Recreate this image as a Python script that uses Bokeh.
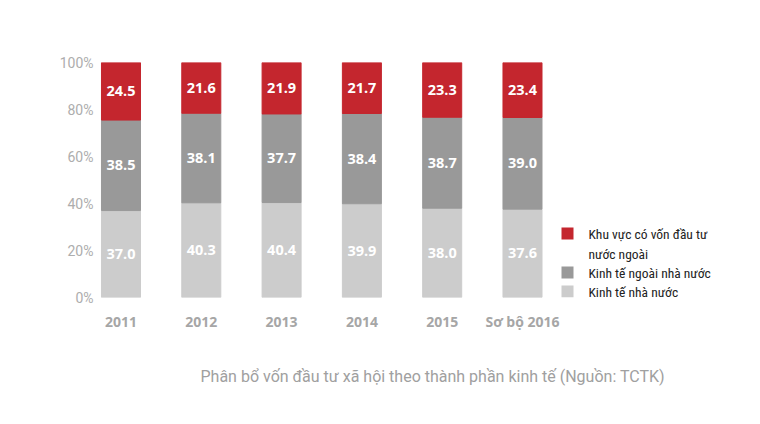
from bokeh.plotting import figure
from bokeh.models import FixedTicker, ColumnDataSource, Title
from bokeh.core.properties import value
from bokeh.embed import file_html
from bokeh.resources import INLINE

years = ["2011", "2012", "2013", "2014", "2015", "Sơ bộ 2016"]
nha_nuoc = [37.0, 40.3, 40.4, 39.9, 38.0, 37.6]
ngoai_nha_nuoc = [38.5, 38.1, 37.7, 38.4, 38.7, 39.0]
fdi = [24.5, 21.6, 21.9, 21.7, 23.3, 23.4]
legend_labels = ["Khu vực có vốn đầu tư", "Kinh tế ngoài nhà nước", "Kinh tế nhà nước"]
legend_label_cont = "nước ngoài"
y_ticks = [0, 20, 40, 60, 80, 100]
caption = "Phân bổ vốn đầu tư xã hội theo thành phần kinh tế (Nguồn: TCTK)"

RED, DARK, LIGHT = "#c4262e", "#999999", "#cccccc"

# layout constants (pixels)
FRAME_L, FRAME_T, FRAME_B = 96, 62, 297
PX_PER_CAT = 80.3
PX_PER_PCT = (FRAME_B - FRAME_T) / 100.0
X0 = -0.305
FIG_W, FIG_H = 760, 424

def px_to_x(px):
    return (px - FRAME_L) / PX_PER_CAT + X0

def py_to_y(py):
    return (FRAME_B - py) / PX_PER_PCT

xs = list(range(len(years)))
b1 = [0.0] * len(xs)
t1 = nha_nuoc
b2 = t1
t2 = [a + b for a, b in zip(t1, ngoai_nha_nuoc)]
b3 = t2
t3 = [a + b for a, b in zip(t2, fdi)]

src = ColumnDataSource(dict(
    x=xs, b1=b1, t1=t1, b2=b2, t2=t2, b3=b3, t3=t3,
    m1=[(a + b) / 2 for a, b in zip(b1, t1)],
    m2=[(a + b) / 2 for a, b in zip(b2, t2)],
    m3=[(a + b) / 2 for a, b in zip(b3, t3)],
    l1=[f"{v:.1f}" for v in nha_nuoc],
    l2=[f"{v:.1f}" for v in ngoai_nha_nuoc],
    l3=[f"{v:.1f}" for v in fdi],
))

p = figure(width=FIG_W, height=FIG_H, output_backend="svg", toolbar_location=None,
           x_range=(X0, px_to_x(FIG_W)), y_range=(0, 100),
           min_border_left=FRAME_L, min_border_right=0, min_border_top=FRAME_T,
           min_border_bottom=FIG_H - FRAME_B)
p.outline_line_color = None
p.xgrid.visible = False
p.ygrid.visible = False

W = 0.486
p.vbar(x="x", bottom="b1", top="t1", width=W, color=LIGHT, source=src)
p.vbar(x="x", bottom="b2", top="t2", width=W, color=DARK, source=src)
p.vbar(x="x", bottom="b3", top="t3", width=W, color=RED, source=src)

for m, l in (("m1", "l1"), ("m2", "l2"), ("m3", "l3")):
    p.text(x="x", y=m, text=l, source=src, text_align="center", text_baseline="middle",
           text_color="white", text_font=value("Open Sans"), text_font_style="bold",
           text_font_size="14.5px")

# axes
p.yaxis.ticker = FixedTicker(ticks=y_ticks)
p.yaxis.major_label_overrides = {t: f"{t}%" for t in y_ticks}
p.yaxis.axis_line_color = None
p.yaxis.major_tick_line_color = None
p.yaxis.major_tick_out = 0
p.yaxis.major_tick_in = 0
p.yaxis.minor_tick_line_color = None
p.yaxis.major_label_text_color = "#adadad"
p.yaxis.major_label_text_font = "Roboto"
p.yaxis.major_label_text_font_style = "normal"
p.yaxis.major_label_text_font_size = "14px"
p.yaxis.major_label_standoff = 3

p.xaxis.ticker = FixedTicker(ticks=xs)
p.xaxis.major_label_overrides = {i: y for i, y in zip(xs, years)}
p.xaxis.axis_line_color = None
p.xaxis.major_tick_line_color = None
p.xaxis.major_tick_out = 0
p.xaxis.major_tick_in = 0
p.xaxis.minor_tick_line_color = None
p.xaxis.major_label_text_color = "#a6a6a6"
p.xaxis.major_label_text_font = "Open Sans"
p.xaxis.major_label_text_font_style = "bold"
p.xaxis.major_label_text_font_size = "14px"
p.xaxis.major_label_standoff = 14

# legend (manual, positioned in pixels)
leg_font = value("'Roboto Condensed', 'DejaVu Sans Condensed', Roboto")
sq_x = px_to_x(567)
tx_x = px_to_x(588)
sq_py = [233, 272, 291]
p.rect(x=[sq_x] * 3, y=[py_to_y(v) for v in sq_py], width=12, height=12,
       width_units="screen", height_units="screen",
       color=[RED, DARK, LIGHT], line_color=None)
p.text(x=[tx_x] * 4, y=[py_to_y(v) for v in (233, 253, 272, 291)],
       text=[legend_labels[0], legend_label_cont, legend_labels[1], legend_labels[2]],
       text_baseline="middle", text_align="left", text_color="#222222",
       text_font=leg_font, text_font_size="13.5px")

t = Title(text=caption, align="left", offset=104, text_font="Roboto",
          text_font_style="normal", text_font_size="16px", text_color="#a0a0a0",
          standoff=62)
p.add_layout(t, "below")

open("out.html", "w").write(file_html(p, INLINE))
